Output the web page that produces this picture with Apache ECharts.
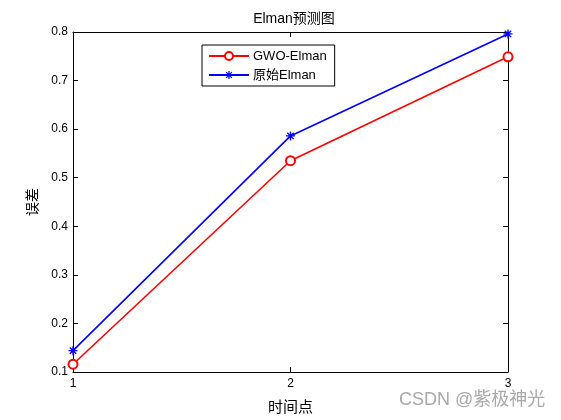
<!DOCTYPE html>
<html>
<head>
<meta charset="utf-8">
<script src="https://cdn.jsdelivr.net/npm/echarts@6/dist/echarts.min.js"></script>
<style>html,body{margin:0;padding:0;background:#fff;}#c{width:561px;height:420px;}</style>
</head>
<body>
<div id="c"></div>
<script>
var xValues = [1, 2, 3];
var gwoElman = [0.116, 0.535, 0.749];
var rawElman = [0.144, 0.586, 0.796];
var yTicks = [0.1, 0.2, 0.3, 0.4, 0.5, 0.6, 0.7, 0.8];
var seriesNames = ['GWO-Elman', '原始Elman'];

var FONT = '"Liberation Sans", "Noto Sans CJK SC", sans-serif';
var star = 'path://M-1,-0.15L1,-0.15L1,0.15L-1,0.15Z M-0.15,-1L0.15,-1L0.15,1L-0.15,1Z M-0.601,-0.813L0.813,0.601L0.601,0.813L-0.813,-0.601Z M-0.813,0.601L0.601,-0.813L0.813,-0.601L-0.601,0.813Z';

function pairs(xs, ys) { return xs.map(function (x, i) { return [x, ys[i]]; }); }

var chart = echarts.init(document.getElementById('c'));
var axisLine = { show: true, onZero: false, lineStyle: { color: '#000', width: 1 } };
var tick = { show: true, inside: true, length: 5, lineStyle: { color: '#000' } };
chart.setOption({
  animation: false,
  backgroundColor: '#fff',
  title: {
    text: 'Elman预测图', left: 289, top: 7, textAlign: 'center',
    textStyle: { fontFamily: FONT, fontSize: 14, fontWeight: 'normal', color: '#000' }
  },
  legend: {
    orient: 'vertical', left: 202, top: 45,
    padding: [4, 8, 4, 6], itemGap: 5, itemWidth: 40, itemHeight: 10,
    backgroundColor: '#fff', borderColor: '#000', borderWidth: 1, borderRadius: 0,
    data: seriesNames,
    textStyle: { fontFamily: FONT, fontSize: 13, lineHeight: 14, color: '#000', padding: [0, 0, 0, -1] }
  },
  grid: { left: 73, right: 53, top: 32, bottom: 46, containLabel: false },
  xAxis: [{
    type: 'value', min: 1, max: 3, interval: 1, position: 'bottom',
    name: '时间点', nameLocation: 'middle', nameGap: 28,
    nameTextStyle: { fontFamily: FONT, fontSize: 15, color: '#000' },
    axisLine: axisLine, axisTick: tick, splitLine: { show: false },
    axisLabel: { color: '#000', fontFamily: FONT, fontSize: 12, margin: 6 }
  }, {
    type: 'value', min: 1, max: 3, interval: 1, position: 'top',
    axisLine: axisLine, axisTick: tick, splitLine: { show: false }, axisLabel: { show: false }
  }],
  yAxis: [{
    type: 'value', min: 0.1, max: 0.8, interval: 0.1, position: 'left',
    name: '误差', nameLocation: 'middle', nameGap: 31,
    nameTextStyle: { fontFamily: FONT, fontSize: 14, color: '#000' },
    axisLine: axisLine, axisTick: tick, splitLine: { show: false },
    axisLabel: { color: '#000', fontFamily: FONT, fontSize: 12, margin: 5,
      formatter: function (v) { return (Math.round(v * 10) / 10).toFixed(1); } }
  }, {
    type: 'value', min: 0.1, max: 0.8, interval: 0.1, position: 'right',
    axisLine: axisLine, axisTick: tick, splitLine: { show: false }, axisLabel: { show: false }
  }],
  series: [{
    name: seriesNames[0], type: 'line', data: pairs(xValues, gwoElman),
    color: '#ff0000', symbol: 'emptyCircle', symbolSize: 9, showAllSymbol: true,
    lineStyle: { color: '#ff0000', width: 1.6 },
    itemStyle: { color: '#ff0000', borderColor: '#ff0000', borderWidth: 1.6 }
  }, {
    name: seriesNames[1], type: 'line', data: pairs(xValues, rawElman),
    color: '#0000ff', symbol: star, symbolSize: 9, showAllSymbol: true,
    lineStyle: { color: '#0000ff', width: 1.6 },
    itemStyle: { color: '#0000ff' }
  }],
  graphic: [{
    type: 'text', left: 399, top: 391,
    style: { text: 'CSDN @紫极神光', fill: '#a9a9a9', font: '18px ' + FONT }
  }]
});
</script>
</body>
</html>
